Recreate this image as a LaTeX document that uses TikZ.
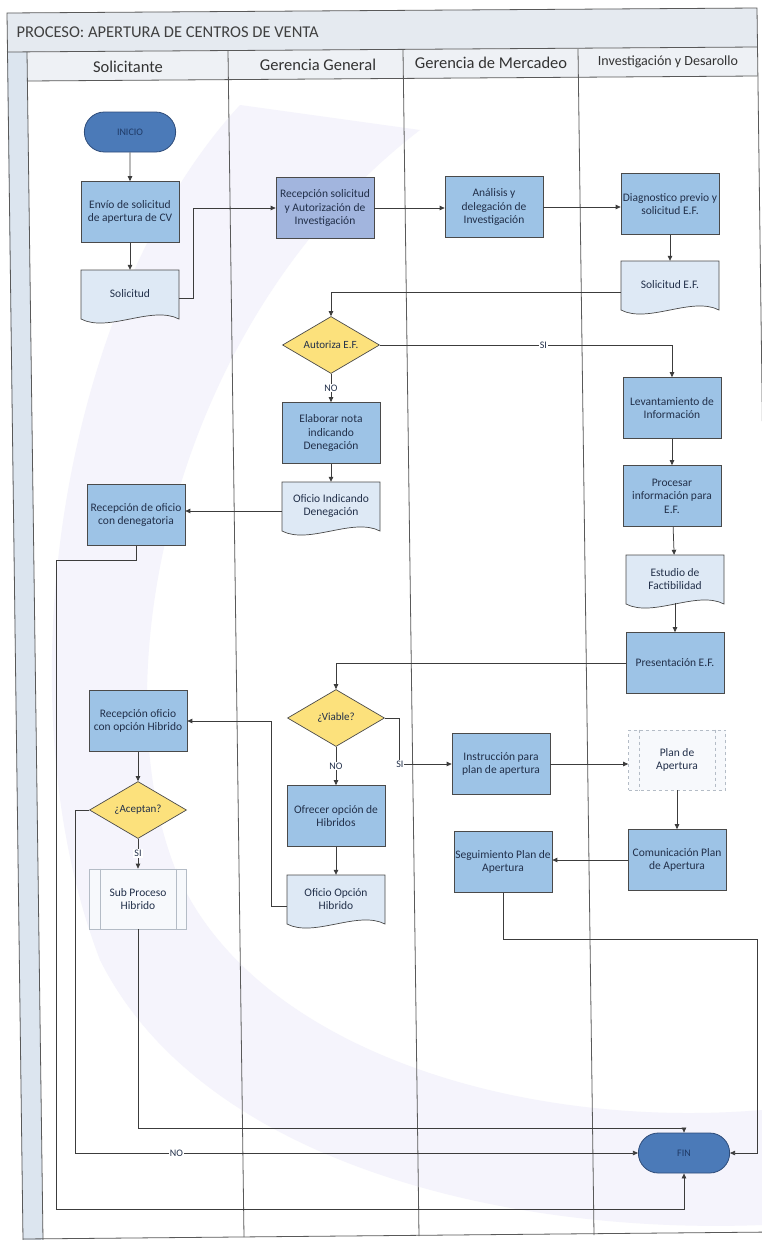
\documentclass[tikz,border=0pt]{standalone}
\usepackage{fontspec}
\setmainfont{Carlito}
\usetikzlibrary{shapes.geometric,shapes.misc,arrows.meta}
\definecolor{procfill}{HTML}{9DC3E6}
\definecolor{procfillb}{HTML}{A2B5DE}
\definecolor{docfill}{HTML}{DEE9F5}
\definecolor{decfill}{HTML}{FCE17C}
\definecolor{termfill}{HTML}{4B7AB8}
\definecolor{termline}{HTML}{2E4C7A}
\definecolor{termtext}{HTML}{1F3A66}
\definecolor{bandfill}{HTML}{E5EAF0}
\definecolor{headfill}{HTML}{EEF1F5}
\definecolor{stripfill}{HTML}{DCE5EF}
\definecolor{lineclr}{HTML}{3C3C3C}
\definecolor{boxline}{HTML}{4A4A4A}
\definecolor{txtclr}{HTML}{22304A}
\definecolor{subline}{HTML}{B4BCC6}
\definecolor{subfill}{HTML}{F7F9FC}
\definecolor{wmclr}{HTML}{F5F4FC}

\newcommand{\docnode}[4]{%
  \path[docshape] ({#2-49},{#3-26}) -- ({#2+49},{#3-26}) -- ({#2+49},{#3+23})
     .. controls ({#2+22},{#3+9}) and ({#2-22},{#3+37}) .. ({#2-49},{#3+23}) -- cycle;
  \node[doctext] (#1) at (#2,{#3-2}) {#4};
}

\begin{document}
\begin{tikzpicture}[x=1pt,y=-1pt,
  every node/.style={text=txtclr},
  proc/.style={rectangle, draw=boxline, line width=0.7pt, fill=procfill, minimum width=98pt, minimum height=61pt, align=center, font=\fontsize{11.5}{13.5}\selectfont, inner sep=1pt},
  doctext/.style={rectangle, minimum width=98pt, minimum height=48pt, align=center, font=\fontsize{11.5}{13.5}\selectfont, inner sep=1pt},
  docshape/.style={draw=boxline, line width=0.7pt, fill=docfill},
  dec/.style={diamond, draw=boxline, line width=0.7pt, fill=decfill, minimum width=97pt, minimum height=57pt, aspect=1.7, inner sep=0pt, font=\fontsize{11}{13}\selectfont},
  term/.style={rounded rectangle, draw=termline, line width=0.8pt, fill=termfill, minimum width=98pt, minimum height=40pt, font=\fontsize{10}{12}\selectfont, text=termtext},
  subp/.style={rectangle, draw=subline, line width=0.7pt, fill=subfill, minimum width=97pt, minimum height=60pt, align=center, font=\fontsize{11.5}{13.5}\selectfont},
  subin/.style={draw=subline, line width=0.6pt},
  conn/.style={draw=lineclr, line width=0.75pt, -{Triangle[length=5pt,width=4.5pt]}},
  lbl/.style={fill=white, inner sep=1pt, font=\fontsize{10}{12}\selectfont},
  frame/.style={draw=lineclr!85, line width=0.8pt},
  head/.style={font=\fontsize{16.5}{18}\selectfont, text=black!80},
]
\useasboundingbox (0,0) rectangle (762,1240);
\fill[white] (0,0) rectangle (762,1240);

% faint watermark band
\fill[wmclr] (240,105) .. controls (60,300) and (0,700) .. (100,960)
  .. controls (200,1160) and (500,1235) .. (762,1225) -- (762,1110)
  .. controls (520,1130) and (260,1050) .. (180,880)
  .. controls (100,700) and (160,330) .. (420,130) -- cycle;

% frame
\fill[bandfill] (7,13) -- (757,8) -- (757,47) -- (7,52) -- cycle;
\fill[headfill] (27,52) -- (757,47) -- (757,76) -- (27,81) -- cycle;
\fill[stripfill] (7,52) -- (27,52) -- (43,1240) -- (23,1240) -- cycle;
\draw[frame] (773,1234) -- (757,8) -- (7,13) -- (23,1240);
\draw[frame] (7,52) -- (757,47);
\draw[frame] (27,81) -- (757,76);
\draw[frame] (27,52) -- (43,1240);
\draw[frame] (228,51) -- (244,1237);
\draw[frame] (403,50) -- (419,1236);
\draw[frame] (578,49) -- (594,1235);
\draw[frame] (23,1239) -- (773,1232);

\node[head, anchor=west, text=black!75] (title) at (13,32) {PROCESO: APERTURA DE CENTROS DE VENTA};
\node[head] (h1) at (128,67) {Solicitante};
\node[head] (h2) at (318,65) {Gerencia General};
\node[head] (h3) at (491,63) {Gerencia de Mercadeo};
\node[head, font=\fontsize{14}{16}\selectfont] (h4) at (668,62) {Investigación y Desarollo};

% nodes
\node[term] (inicio) at (130,132) {INICIO};
\node[proc] (envio) at (130,212) {Envío de solicitud\\de apertura de CV};
\docnode{solic}{130}{296}{Solicitud}
\node[proc, fill=procfillb] (recep) at (325,208) {Recepción solicitud\\y Autorización de\\Investigación};
\node[proc] (anal) at (494,207) {Análisis y\\delegación de\\Investigación};
\node[proc] (diag) at (670,204) {Diagnostico previo y\\solicitud E.F.};
\docnode{solef}{670}{287}{Solicitud E.F.}
\node[dec] (autoriza) at (331,345) {Autoriza E.F.};
\node[proc] (levant) at (672,408) {Levantamiento de\\Información};
\node[proc] (elab) at (331,433) {Elaborar nota\\indicando\\Denegación};
\node[proc] (proces) at (672,496) {Procesar\\información para\\E.F.};
\docnode{ofden}{331}{508}{Oficio Indicando\\Denegación}
\node[proc] (recden) at (136,515) {Recepción de oficio\\con denegatoria};
\docnode{estud}{675}{581}{Estudio de\\Factibilidad}
\node[proc] (present) at (675,663) {Presentación E.F.};
\node[dec] (viable) at (336,718) {¿Viable?};
\node[proc] (recop) at (138,721) {Recepción oficio\\con opción Hibrido};
\node[proc] (instr) at (501,764) {Instrucción para\\plan de apertura};
\node[subp, draw=subline, dashed] (plan) at (677,760) {Plan de\\Apertura};
\draw[subin, dashed] ([xshift=11pt]plan.north west) -- ([xshift=11pt]plan.south west);
\draw[subin, dashed] ([xshift=-11pt]plan.north east) -- ([xshift=-11pt]plan.south east);
\node[proc] (ofrec) at (336,816) {Ofrecer opción de\\Hibridos};
\node[dec] (acept) at (138,810) {¿Aceptan?};
\node[proc] (comun) at (677,860) {Comunicación Plan\\de Apertura};
\node[proc] (segui) at (503,862) {Seguimiento Plan de\\Apertura};
\node[subp] (subpr) at (138,899) {Sub Proceso\\Hibrido};
\draw[subin] ([xshift=11pt]subpr.north west) -- ([xshift=11pt]subpr.south west);
\draw[subin] ([xshift=-11pt]subpr.north east) -- ([xshift=-11pt]subpr.south east);
\docnode{ofop}{336}{901}{Oficio Opción\\Hibrido}
\node[term] (fin) at (684,1153) {FIN};

% connectors
\draw[conn] (inicio) -- (envio);
\draw[conn] (envio) -- (solic);
\draw[conn] ([yshift=-4pt]solic.east) -- ++(14,0) |- (recep.west);
\draw[conn] (recep.east) -- (recep.east -| anal.west);
\draw[conn] (anal.east) -- (anal.east -| diag.west);
\draw[conn] (diag) -- (solef);
\draw[conn] ([yshift=-7pt]solef.west) -| (autoriza.north);
\draw[conn] (autoriza.east) -| node[lbl, pos=0.28] {SI} (levant.north);
\draw[conn] (autoriza.south) -- node[lbl] {NO} (elab.north);
\draw[conn] (elab) -- (ofden);
\draw[conn] (levant) -- (proces);
\draw[conn] ([yshift=-5pt]ofden.west) -- ([yshift=-5pt]ofden.west -| recden.east);
\draw[conn] (proces) -- (estud);
\draw[conn] (estud) -- (present);
\draw[conn] (present.west) -| (viable.north);
\draw[conn] (viable.south) -- node[lbl] {NO} (ofrec.north);
\draw[conn] (viable.east) -- ++(15,0) |- node[lbl, pos=0.5] {SI} (instr.west);
\draw[conn] (ofrec) -- (ofop);
\draw[conn] ([yshift=-7pt]ofop.west) -- ++(-15,0) |- (recop.east);
\draw[conn] (recop) -- (acept);
\draw[conn] (acept.south) -- node[lbl] {SI} (subpr.north);
\draw[conn] (acept.west) -- ++(-14,0) |- node[lbl, pos=0.59] {NO} (fin.west);
\draw[conn] (subpr.south) -- ++(0,199) -| (fin.north);
\draw[conn] (recden.south) -- ++(0,15) -- ++(-80,0) |- ([yshift=-36pt]fin.south) -- (fin.south);
\draw[conn] (instr.east) -- (instr.east -| plan.west);
\draw[conn] (plan) -- (comun);
\draw[conn] (comun.west) -- (comun.west -| segui.east);
\draw[conn] (segui.south) -- ++(0,47) -- ++(254,0) |- (fin.east);
\end{tikzpicture}
\end{document}
